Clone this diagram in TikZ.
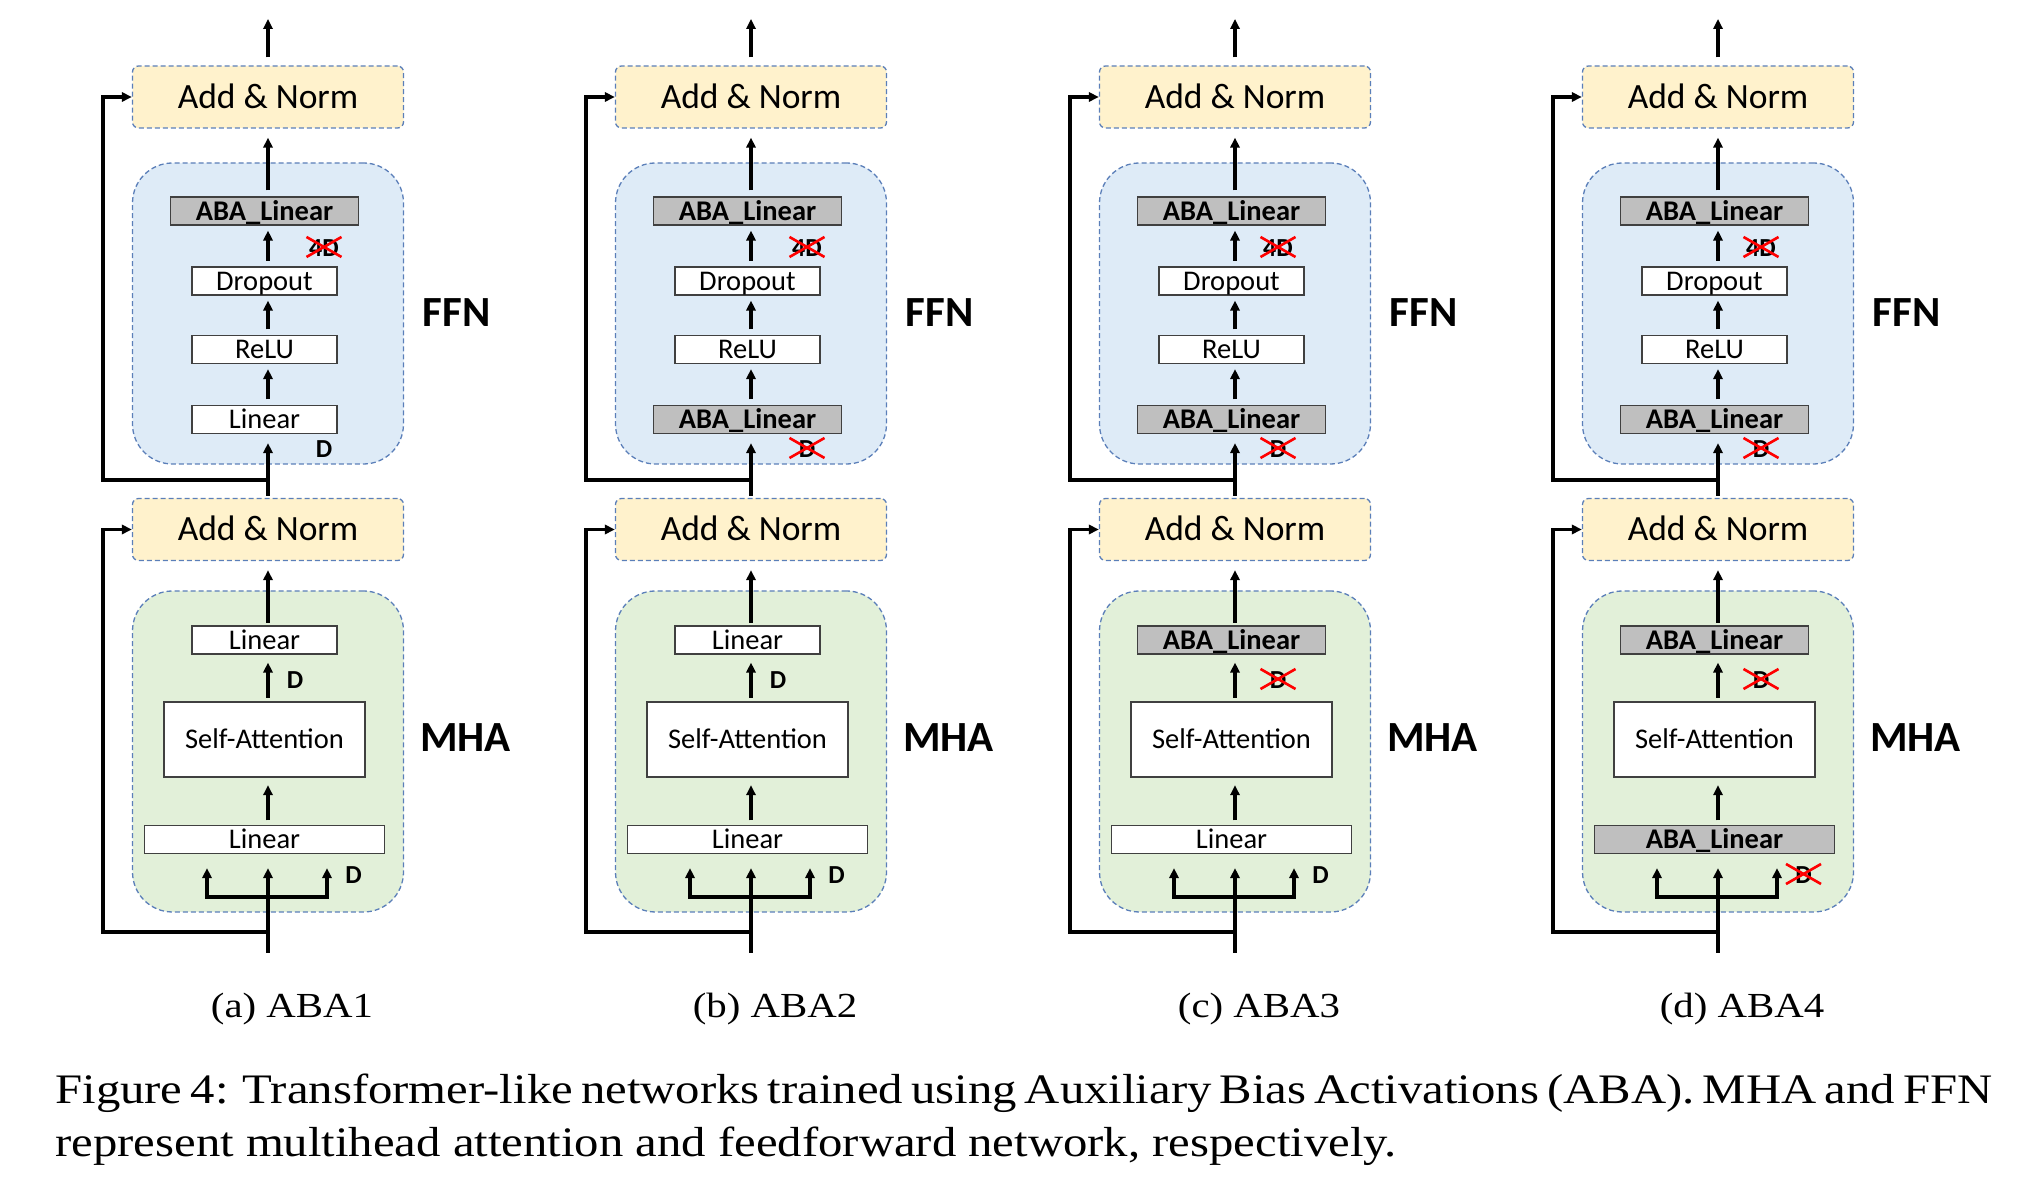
\documentclass[tikz,border=0pt]{standalone}
\usepackage{fontspec}
\setmainfont{Liberation Serif}
\newfontfamily\calibfont{Carlito}
\newfontfamily\capfont[FakeStretch=1.16]{Liberation Serif}
\usetikzlibrary{arrows.meta}
\definecolor{anfill}{HTML}{FFF2CC}
\definecolor{ffnfill}{HTML}{DEEBF7}
\definecolor{mhafill}{HTML}{E2F0D9}
\definecolor{dashblue}{HTML}{5B7FB9}
\definecolor{abagray}{HTML}{BFBFBF}
\definecolor{boxedge}{HTML}{404040}
\tikzset{
  x=0.5pt, y=-0.5pt,
  dashedge/.style={draw=dashblue, line width=0.65pt, dash pattern=on 2.5pt off 1.5pt},
  anbox/.style={dashedge, fill=anfill, rounded corners=3pt, minimum width=135.5pt, minimum height=31pt,
    inner sep=0pt, text height=11.4pt, text depth=0pt, font=\calibfont\fontsize{17.75}{20}\selectfont},
  ffnbox/.style={dashedge, fill=ffnfill, rounded corners=20pt, minimum width=135.5pt, minimum height=150.5pt, inner sep=0pt},
  mhabox/.style={dashedge, fill=mhafill, rounded corners=20pt, minimum width=135.5pt, minimum height=160.5pt, inner sep=0pt},
  wbox/.style={draw=boxedge, line width=0.6pt, fill=white, minimum width=72.5pt, minimum height=14pt,
    inner sep=0pt, text height=9.2pt, text depth=0pt, font=\calibfont\fontsize{14.25}{16}\selectfont},
  abox/.style={wbox, fill=abagray, minimum width=94pt, font=\calibfont\bfseries\fontsize{14.25}{16}\selectfont},
  sabox/.style={wbox, minimum width=100.5pt, minimum height=37.5pt},
  biglbl/.style={anchor=base, inner sep=0pt, font=\calibfont\bfseries\fontsize{21.5}{24}\selectfont},
  dlbl/.style={anchor=base, inner sep=0pt, font=\calibfont\bfseries\fontsize{13}{15}\selectfont},
  subcap/.style={anchor=base, inner sep=0pt, font=\capfont\fontsize{17.6}{21}\selectfont},
  figcap/.style={anchor=base west, inner sep=0pt, font=\capfont\fontsize{21}{25}\selectfont},
  arr/.style={line width=1.65pt, -{Triangle[length=5pt,width=4.6pt]}},
  plain/.style={line width=1.65pt, line cap=rect},
  xcross/.style={draw=red, line width=1.3pt},
}
% #1 shift, #2 prefix, #3 FFN bottom ABA, #4 MHA top ABA, #5 MHA bottom ABA,
% #6 FFN label x offset, #7 MHA top label x offset, #8 caption
\newcommand\crossmark[1]{%
  \draw[xcross] ([shift={(-17.5,-20)}]#1.base) -- ([shift={(17.5,0)}]#1.base);
  \draw[xcross] ([shift={(-17.5,0)}]#1.base) -- ([shift={(17.5,-20)}]#1.base);
}
\newcommand\abapanel[8]{%
\begin{scope}[shift={(#1,0)}]
  \coordinate (#2-sp) at (268,0);
  % FFN block
  \node[anbox] (#2-topAN) at (268,97) {Add \& Norm};
  \node[ffnbox] (#2-ffn) at (268,313.5) {};
  \node[abox] (#2-ffnTop) at (264.5,211) {ABA\_Linear};
  \node[wbox] (#2-drop) at (264.5,281) {Dropout};
  \node[wbox] (#2-relu) at (264.5,349.5) {ReLU};
  \ifnum#3=1
    \node[abox] (#2-ffnBot) at (264.5,419.5) {ABA\_Linear};
  \else
    \node[wbox] (#2-ffnBot) at (264.5,419.5) {Linear};
  \fi
  \node[biglbl] (#2-ffnlbl) at (456.5,327) {FFN};
  \node[dlbl] (#2-d4) at (268+#6,257) {4D};
  \crossmark{#2-d4}
  \node[dlbl] (#2-dffn) at (268+#6,458) {D};
  \ifnum#3=1 \crossmark{#2-dffn} \fi
  % MHA block
  \node[anbox] (#2-botAN) at (268,529.5) {Add \& Norm};
  \node[mhabox] (#2-mha) at (268,751.5) {};
  \ifnum#4=1
    \node[abox] (#2-mhaTop) at (264.5,640) {ABA\_Linear};
  \else
    \node[wbox] (#2-mhaTop) at (264.5,640) {Linear};
  \fi
  \node[sabox] (#2-sa) at (264.5,739.5) {Self-Attention};
  \ifnum#5=1
    \node[abox, minimum width=120pt] (#2-mhaBot) at (264.5,839.5) {ABA\_Linear};
  \else
    \node[wbox, minimum width=120pt] (#2-mhaBot) at (264.5,839.5) {Linear};
  \fi
  \node[biglbl] (#2-mhalbl) at (465.5,751.7) {MHA};
  \node[dlbl] (#2-dmt) at (268+#7,689) {D};
  \ifnum#4=1 \crossmark{#2-dmt} \fi
  \node[dlbl] (#2-dmb) at (353.5,884) {D};
  \ifnum#5=1 \crossmark{#2-dmb} \fi
  % connectors
  \coordinate (#2-out) at (268,19);
  \draw[arr, shorten <=4pt] (#2-topAN.north) -- (#2-out);
  \draw[arr, shorten <=3pt, shorten >=4.5pt] (#2-ffnTop.north -| #2-sp) -- (#2-topAN.south);
  \draw[arr, shorten <=2.8pt, shorten >=2.5pt] (#2-drop.north -| #2-sp) -- (#2-ffnTop.south -| #2-sp);
  \draw[arr, shorten <=2.8pt, shorten >=2.5pt] (#2-relu.north -| #2-sp) -- (#2-drop.south -| #2-sp);
  \draw[arr, shorten <=2.8pt, shorten >=2.5pt] (#2-ffnBot.north -| #2-sp) -- (#2-relu.south -| #2-sp);
  \draw[arr, shorten <=1pt, shorten >=4.5pt] (#2-botAN.north) -- (#2-ffnBot.south -| #2-sp);
  \coordinate (#2-fsplit) at (268,480);
  \coordinate (#2-fleft) at (103,480);
  \draw[arr] (#2-fsplit) -- (#2-fleft) |- (#2-topAN.west);
  \draw[arr, shorten <=1.3pt, shorten >=4.5pt] (#2-mhaTop.north -| #2-sp) -- (#2-botAN.south);
  \draw[arr, shorten <=1.7pt, shorten >=4pt] (#2-sa.north -| #2-sp) -- (#2-mhaTop.south -| #2-sp);
  \draw[arr, shorten <=2.2pt, shorten >=3.8pt] (#2-mhaBot.north -| #2-sp) -- (#2-sa.south -| #2-sp);
  \coordinate (#2-in) at (268,953);
  \coordinate (#2-bl) at (207,897);
  \coordinate (#2-br) at (327,897);
  \draw[arr, shorten >=7pt] (#2-in) -- (#2-mhaBot.south -| #2-sp);
  \draw[plain] (#2-bl) -- (#2-br);
  \draw[arr, shorten >=7pt] (#2-bl) -- (#2-bl |- #2-mhaBot.south);
  \draw[arr, shorten >=7pt] (#2-br) -- (#2-br |- #2-mhaBot.south);
  \coordinate (#2-msplit) at (268,932);
  \coordinate (#2-mleft) at (103,932);
  \draw[arr] (#2-msplit) -- (#2-mleft) |- (#2-botAN.west);
  \node[subcap] (#2-cap) at (292,1017) {#8};
\end{scope}
}
\begin{document}
\begin{tikzpicture}
\useasboundingbox (0,0) rectangle (2041,1186);
\abapanel{0}{a}{0}{0}{0}{56}{27}{(a) ABA1}
\abapanel{483}{b}{1}{0}{0}{56}{27}{(b) ABA2}
\abapanel{967}{c}{1}{1}{0}{43}{43}{(c) ABA3}
\abapanel{1450}{d}{1}{1}{1}{43}{43}{(d) ABA4}
\node[figcap] (cap1) at (55,1103) {\hbox to 965pt{Figure 4: Transformer-like networks trained using Auxiliary Bias Activations (ABA). MHA and FFN}};
\node[figcap] (cap2) at (55,1156) {represent multihead attention and feedforward network, respectively.};
\end{tikzpicture}
\end{document}
